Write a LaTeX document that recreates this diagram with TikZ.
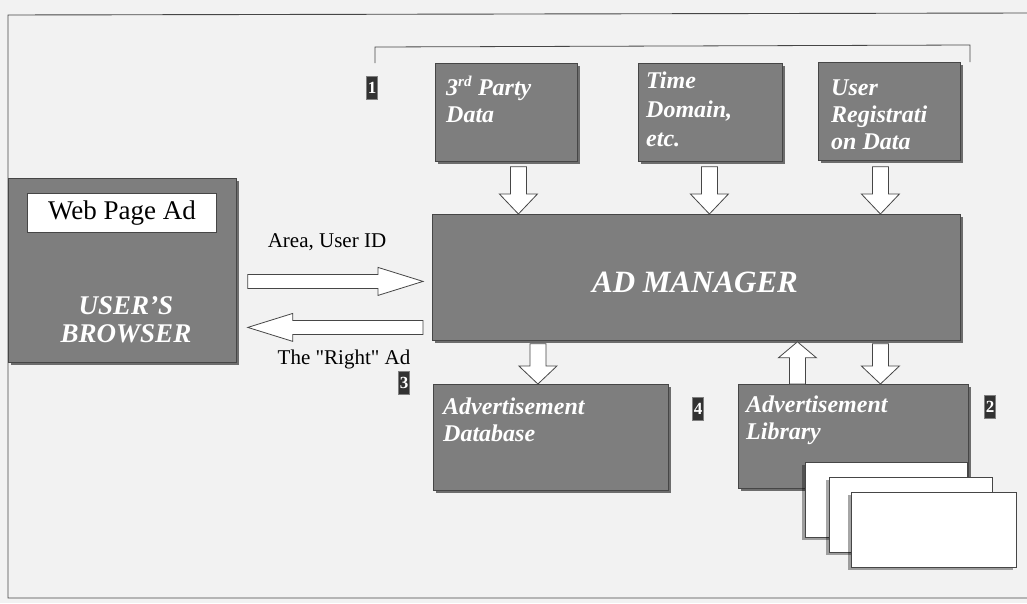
\documentclass[tikz,border=0pt]{standalone}
\usepackage{fontspec}
\setmainfont{Liberation Serif}
\newfontfamily\plainserif{Liberation Serif}[Ligatures=ResetAll]
\usetikzlibrary{calc,shadows}
\definecolor{boxgray}{RGB}{126,126,126}
\definecolor{edge}{RGB}{70,70,70}
\definecolor{bg}{RGB}{242,242,242}
\definecolor{tagfill}{RGB}{50,50,50}
\newcommand\blockarrow[5]{%
  \coordinate (neck) at ($(#2)!#5!(#1)$);
  \draw[blockarr] ($(#1)!#3!90:(#2)$) -- ($(neck)!#3!-90:(#1)$) -- ($(neck)!#4!-90:(#1)$) -- (#2) -- ($(neck)!#4!90:(#1)$) -- ($(neck)!#3!90:(#1)$) -- ($(#1)!#3!-90:(#2)$) -- cycle;}
\tikzset{
  panel/.style={draw=edge, line width=0.8pt, fill=boxgray, anchor=north west, inner sep=0pt,
    drop shadow={shadow xshift=3pt, shadow yshift=-3pt, fill=black, opacity=0.55}},
  page/.style={draw=edge, line width=0.8pt, fill=white, anchor=north west, inner sep=0pt,
    drop shadow={shadow xshift=-3pt, shadow yshift=-3pt, fill=black, opacity=0.35}},
  whitebox/.style={draw=edge, line width=0.8pt, fill=white, anchor=north west, inner sep=0pt,
    font=\fontsize{27}{30}\selectfont},
  btext/.style={text=white, font=\bfseries\itshape\fontsize{24}{27}\selectfont, align=left, anchor=north west, inner sep=0pt},
  lbl/.style={font=\fontsize{21}{24}\selectfont, inner sep=0pt},
  tag/.style={fill=tagfill, draw=gray, text=white, font=\bfseries\fontsize{17}{17}\selectfont, inner sep=0pt, minimum width=11, minimum height=23},
  blockarr/.style={draw=edge, fill=white, line width=0.8pt, line join=miter},
  frame/.style={draw=edge, line width=0.9pt}
}
\begin{document}
\begin{tikzpicture}[x=1pt, y=-1pt]
\fill[bg] (0,0) rectangle (1027,603);
\useasboundingbox (0,0) rectangle (1027,603);
% frame
\coordinate (fbl) at (8,598);
\coordinate (ftl) at (8,15);
\coordinate (ftr) at (1027,13);
\coordinate (fbr) at (1027,598);
\draw[frame] (fbr) -- (fbl) -- (ftl) -- (ftr);
% bracket
\coordinate (bl) at (375,63);
\coordinate (br) at (970,62);
\draw[frame, line width=0.8pt] (bl) -- (375,47) -- (970,45) -- (br);
% browser
\node[panel, minimum width=228, minimum height=184] (browser) at (8,178) {};
\node[whitebox, minimum width=189, minimum height=39] (wpa) at (27,193) {Web Page Ad};
\node[btext, font=\bfseries\itshape\fontsize{27}{28}\selectfont, align=center, anchor=center] (ub) at (126,320) {USER’S\\BROWSER};
% manager
\node[panel, minimum width=528, minimum height=126] (mgr) at (432,214) {};
\node[btext, font=\bfseries\itshape\fontsize{31}{32}\selectfont, anchor=center] (mgrt) at (695,282) {AD MANAGER};
% top boxes
\node[panel, minimum width=142, minimum height=98] (third) at (435,63) {};
\node[panel, minimum width=144, minimum height=98] (time) at (638,63) {};
\node[panel, minimum width=142, minimum height=98] (ureg) at (818,62) {};
\node[btext] (thirdt) at (446,76) {3\textsuperscript{\fontsize{15}{15}\selectfont rd} Party\\Data};
\node[btext, font=\bfseries\itshape\fontsize{24}{29}\selectfont] (timet) at (646,72) {Time\\Domain,\\etc.};
\node[btext] (uregt) at (831,80) {User\\Registrati\\on Data};
% bottom boxes
\node[panel, minimum width=235, minimum height=106] (db) at (433,384) {};
\node[panel, minimum width=230, minimum height=104] (lib) at (738,384) {};
\node[btext] (dbt) at (443,398) {Advertisement\\Database};
\node[btext] (libt) at (746,396) {Advertisement\\Library};
% pages
\node[page, minimum width=162, minimum height=75] (pg1) at (805,462) {};
\node[page, minimum width=163, minimum height=75] (pg2) at (829,477) {};
\node[page, minimum width=165, minimum height=75] (pg3) at (851,492) {};
% tags
\node[tag] (t1) at (372,88) {1};
\node[tag] (t3) at (404,383) {3};
\node[tag] (t4) at (698,409) {4};
\node[tag] (t2) at (990,407) {2};
% labels
\node[lbl] (area) at (327,242) {Area, User ID};
\node[lbl, font=\plainserif\fontsize{21}{24}\selectfont] (right) at (344,359) {The "Right" Ad};
% top arrows
\coordinate (a1s) at ($(third.south)+(12,5)$);
\coordinate (a1e) at (a1s |- mgr.north);
\coordinate (a2s) at ($(time.south)+(-1,5)$);
\coordinate (a2e) at (a2s |- mgr.north);
\coordinate (a3s) at ($(ureg.south)+(-9,6)$);
\coordinate (a3e) at (a3s |- mgr.north);
\blockarrow{a1s}{a1e}{8pt}{19pt}{20pt}
\blockarrow{a2s}{a2e}{8pt}{19pt}{20pt}
\blockarrow{a3s}{a3e}{8pt}{19pt}{20pt}
% bottom arrows
\coordinate (d1e) at ($(db.north)+(-13,0)$);
\coordinate (d1s) at ($(d1e |- mgr.south)+(0,3)$);
\coordinate (u1s) at ($(lib.north)+(-56,0)$);
\coordinate (u1e) at ($(u1s |- mgr.south)+(0,1)$);
\coordinate (d2e) at ($(lib.north)+(27,0)$);
\coordinate (d2s) at ($(d2e |- mgr.south)+(0,3)$);
\blockarrow{d1s}{d1e}{8pt}{19pt}{18pt}
\blockarrow{u1s}{u1e}{8pt}{19pt}{16pt}
\blockarrow{d2s}{d2e}{8pt}{19pt}{18pt}
% horizontal arrows
\coordinate (r1s) at ($(browser.east)+(11,11)$);
\coordinate (r1e) at ($(r1s -| mgr.west)+(-9,0)$);
\coordinate (l1s) at ($(browser.east -| mgr.west)+(-9,57)$);
\coordinate (l1e) at (l1s -| r1s);
\blockarrow{r1s}{r1e}{7pt}{14pt}{45pt}
\blockarrow{l1s}{l1e}{7pt}{14pt}{45pt}
\end{tikzpicture}
\end{document}
